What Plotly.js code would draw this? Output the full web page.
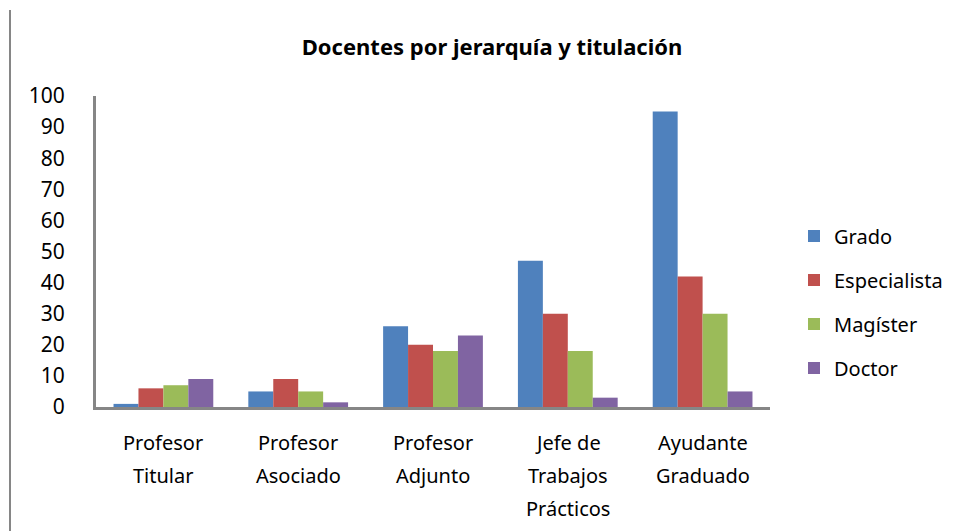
<!DOCTYPE html>
<html><head><meta charset="utf-8">
<script src="https://cdn.plot.ly/plotly-3.0.1.min.js"></script>
<style>body{margin:0;background:#fff}#c{width:955px;height:531px}</style>
</head><body><div id="c"></div>
<script>
const categories = ["Profesor<br>Titular","Profesor<br>Asociado","Profesor<br>Adjunto","Jefe de<br>Trabajos<br>Prácticos","Ayudante<br>Graduado"];
const seriesNames = ["Grado","Especialista","Magíster","Doctor"];
const grado = [1, 5, 26, 47, 95];
const especialista = [6, 9, 20, 30, 42];
const magister = [7, 5, 18, 18, 30];
const doctor = [9, 1.5, 23, 3, 5];
const colors = ["#4F81BD","#C0504D","#9BBB59","#8064A2"];
const values = [grado, especialista, magister, doctor];
const traces = values.map((v,i)=>({type:'bar',x:categories,y:v,name:seriesNames[i],marker:{color:colors[i]},legendgroup:'g'+i}));
const L=96,R=185,T=96,B=124,W=955-L-R,H=531-T-B;
const annotations = [];
categories.forEach(c=>{
  c.split('<br>').forEach((line,j)=>{
    annotations.push({xref:'x',yref:'paper',x:c,y:(531-B-(442+33*j))/H,yanchor:'middle',xanchor:'center',showarrow:false,text:line,font:{size:20,color:'#000'}});
  });
});
const layout = {
  width:955,height:531,
  margin:{l:L,r:R,t:T,b:B,pad:0,autoexpand:false},
  paper_bgcolor:'#fff',plot_bgcolor:'#fff',
  font:{family:'Noto Sans, Open Sans, sans-serif',color:'#000',size:19},
  title:{text:'<b>Docentes por jerarquía y titulación</b>',x:492/955,xanchor:'center',y:1-47/531,yanchor:'middle',font:{size:22,color:'#000'}},
  bargap:0.26,bargroupgap:0,barmode:'group',
  xaxis:{showline:true,linecolor:'#868686',linewidth:3,showgrid:false,ticks:'',showticklabels:false,fixedrange:true},
  yaxis:{range:[0,100],dtick:10,showline:true,linecolor:'#868686',linewidth:3,showgrid:false,ticks:'',zeroline:false,tickfont:{size:21},ticklabelstandoff:24,fixedrange:true},
  legend:{x:(794-L)/W,xanchor:'left',y:(407-302)/H,yanchor:'middle',font:{size:20},tracegroupgap:15,traceorder:'grouped'},
  annotations:annotations,
  shapes:[{type:'line',xref:'paper',yref:'paper',x0:(10-L)/W,x1:(10-L)/W,y0:(531-B-10)/H,y1:(531-B-531)/H,line:{color:'#868686',width:2}}],
  showlegend:true
};
Plotly.newPlot('c',traces,layout,{displayModeBar:false,staticPlot:true});
</script></body></html>
